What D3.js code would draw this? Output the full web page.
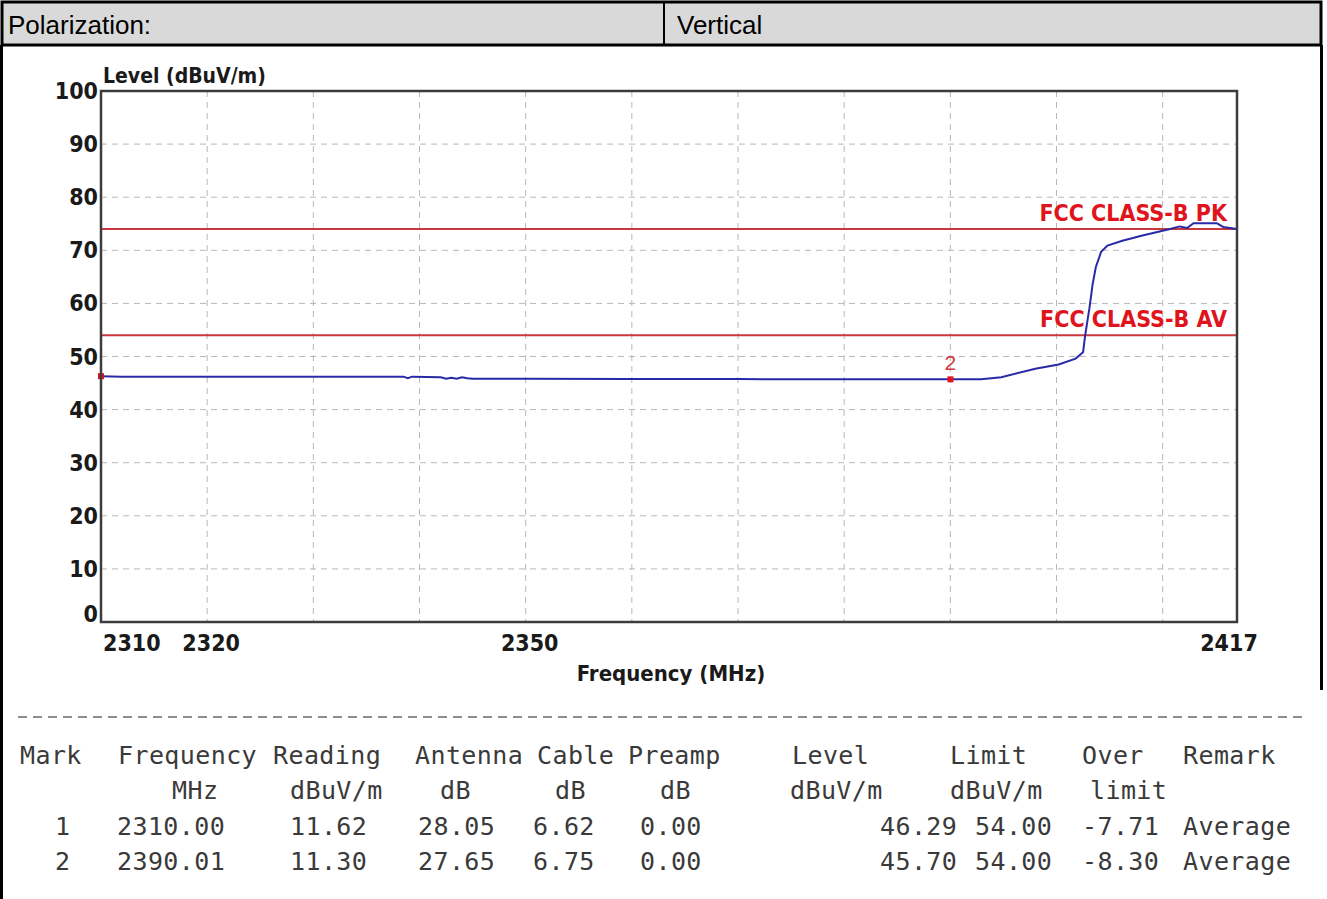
<!DOCTYPE html>
<html>
<head>
<meta charset="utf-8">
<script src="https://cdn.jsdelivr.net/npm/d3@7"></script>
<style>
  html, body { margin: 0; padding: 0; background: #fff; }
  svg { display: block; }
  .cond { font-family: "Liberation Sans Narrow", "DejaVu Sans Condensed", "Arial Narrow", sans-serif; font-stretch: condensed; font-weight: bold; }
  .mono { font-family: "DejaVu Sans Mono", "Liberation Mono", monospace; fill: #3a3a3a; }
</style>
</head>
<body>
<div id="chart"></div>
<script>
// header cells
var headLabel = "Polarization:";
var headValue = "Vertical";

// trace (MHz, dBuV/m)
var traceFreq = [2310.0, 2312, 2320, 2330, 2338.5, 2338.9, 2339.3, 2342.0, 2342.5, 2343.0, 2343.5, 2344.0, 2344.5, 2345,
                 2350, 2360, 2370, 2380, 2390.01, 2392.9, 2394.8, 2398, 2400.2, 2401.8, 2402.5, 2402.7, 2403.1,
                 2403.4, 2403.7, 2404.2, 2404.8, 2406.2, 2408.1, 2410.7, 2411.6, 2412.3, 2412.9, 2415.1, 2415.7, 2417];
var traceLevel = [46.29, 46.2, 46.2, 46.2, 46.2, 45.9, 46.2, 46.1, 45.8, 46.0, 45.8, 46.1, 45.9, 45.8,
                  45.8, 45.75, 45.75, 45.7, 45.7, 45.7, 46.1, 47.7, 48.5, 49.6, 50.8, 54, 59.1,
                  63.6, 66.8, 69.7, 70.9, 71.8, 72.8, 74.0, 74.5, 74.2, 75.1, 75.1, 74.4, 74.0];

// limit lines
var limitNames = ["FCC CLASS-B PK", "FCC CLASS-B AV"];
var limitValues = [74, 54];

// axes
var yTicks = [0, 10, 20, 30, 40, 50, 60, 70, 80, 90, 100];
var xTickLabels = [2310, 2320, 2350, 2417];
var xGrid = [2320, 2330, 2340, 2350, 2360, 2370, 2380, 2390, 2400, 2410];
var xTitle = "Frequency (MHz)";
var yTitle = "Level (dBuV/m)";

// marker table
var colHead1 = ["Mark", "Frequency", "Reading", "Antenna", "Cable", "Preamp", "Level", "Limit", "Over", "Remark"];
var colHead2 = ["", "MHz", "dBuV/m", "dB", "dB", "dB", "dBuV/m", "dBuV/m", "limit", ""];
var markNo = ["1", "2"];
var markFreq = ["2310.00", "2390.01"];
var reading = ["11.62", "11.30"];
var antenna = ["28.05", "27.65"];
var cable = ["6.62", "6.75"];
var preamp = ["0.00", "0.00"];
var level = ["46.29", "45.70"];
var limit = ["54.00", "54.00"];
var overLimit = ["-7.71", "-8.30"];
var remark = ["Average", "Average"];

var W = 1327, H = 899;
var plot = { left: 101, right: 1237, top: 91, bottom: 622 };

var svg = d3.select("#chart").append("svg")
    .attr("width", W)
    .attr("height", H);

// ---- header row ----
svg.append("rect")
    .attr("x", 2).attr("y", 2).attr("width", 1319).attr("height", 43)
    .attr("fill", "#d9d9d9").attr("stroke", "#000").attr("stroke-width", 3);
svg.append("line")
    .attr("x1", 664).attr("x2", 664).attr("y1", 2).attr("y2", 45)
    .attr("stroke", "#000").attr("stroke-width", 2);
svg.append("text").attr("x", 8).attr("y", 34)
    .attr("font-family", "Liberation Sans, Arial, sans-serif").attr("font-size", 26)
    .text(headLabel);
svg.append("text").attr("x", 677).attr("y", 34)
    .attr("font-family", "Liberation Sans, Arial, sans-serif").attr("font-size", 26)
    .text(headValue);

// outer borders below the header
svg.append("line").attr("x1", 1.5).attr("x2", 1.5).attr("y1", 45).attr("y2", H)
    .attr("stroke", "#000").attr("stroke-width", 3);
svg.append("line").attr("x1", 1321.5).attr("x2", 1321.5).attr("y1", 45).attr("y2", 690)
    .attr("stroke", "#000").attr("stroke-width", 3);

// ---- scales ----
var x = d3.scaleLinear().domain([2310, 2417]).range([plot.left, plot.right]);
var y = d3.scaleLinear().domain([0, 100]).range([plot.bottom, plot.top]);

// grid
var grid = svg.append("g").attr("class", "grid");
grid.selectAll("line.h")
    .data(yTicks.filter(function(d) { return d > 0 && d < 100; }))
    .enter().append("line")
    .attr("x1", plot.left).attr("x2", plot.right)
    .attr("y1", function(d) { return y(d); }).attr("y2", function(d) { return y(d); })
    .attr("stroke", "#b8b8b8").attr("stroke-width", 1).attr("stroke-dasharray", "6,5");
grid.selectAll("line.v")
    .data(xGrid)
    .enter().append("line")
    .attr("y1", plot.top).attr("y2", plot.bottom)
    .attr("x1", function(d) { return x(d); }).attr("x2", function(d) { return x(d); })
    .attr("stroke", "#b8b8b8").attr("stroke-width", 1).attr("stroke-dasharray", "6,5");

// limit lines
var lim = svg.append("g");
lim.selectAll("line")
    .data(limitValues)
    .enter().append("line")
    .attr("x1", plot.left).attr("x2", plot.right)
    .attr("y1", function(d) { return y(d); }).attr("y2", function(d) { return y(d); })
    .attr("stroke", "#c8383c").attr("stroke-width", 2);
lim.selectAll("text")
    .data(limitValues)
    .enter().append("text")
    .attr("class", "cond")
    .attr("x", plot.right - 10)
    .attr("y", function(d) { return y(d) - 8; })
    .attr("text-anchor", "end")
    .attr("font-size", 23)
    .attr("fill", "#e0141c")
    .text(function(d, i) { return limitNames[i]; });

// trace
var pts = traceFreq.map(function(f, i) { return [f, traceLevel[i]]; });
var line = d3.line()
    .x(function(d) { return x(d[0]); })
    .y(function(d) { return y(d[1]); });
svg.append("path")
    .datum(pts)
    .attr("d", line)
    .attr("fill", "none")
    .attr("stroke", "#2a2aa6")
    .attr("stroke-width", 2);

// markers
var marks = svg.append("g");
marks.selectAll("rect")
    .data(markNo)
    .enter().append("rect")
    .attr("x", function(d, i) { return x(+markFreq[i]) - 3; })
    .attr("y", function(d, i) { return y(+level[i]) - 3; })
    .attr("width", 6).attr("height", 6)
    .attr("fill", "#e0141c");
marks.selectAll("text")
    .data(markNo.slice(1))
    .enter().append("text")
    .attr("x", function(d) { return x(+markFreq[markNo.indexOf(d)]); })
    .attr("y", function(d) { return y(+level[markNo.indexOf(d)]) - 9; })
    .attr("text-anchor", "middle")
    .attr("font-family", "Liberation Sans, Arial, sans-serif")
    .attr("font-size", 21)
    .attr("fill", "#d03a3a")
    .text(function(d) { return d; });

// frame
svg.append("rect")
    .attr("x", plot.left).attr("y", plot.top)
    .attr("width", plot.right - plot.left).attr("height", plot.bottom - plot.top)
    .attr("fill", "none").attr("stroke", "#3c3c3c").attr("stroke-width", 2.5);

// y tick labels
svg.append("g").selectAll("text")
    .data(yTicks)
    .enter().append("text")
    .attr("class", "cond")
    .attr("x", plot.left - 3)
    .attr("y", function(d) { return y(d) + (d === 0 ? 0 : 8); })
    .attr("text-anchor", "end")
    .attr("font-size", 23)
    .attr("fill", "#1a1a1a")
    .text(function(d) { return d; });

// x tick labels
svg.append("g").selectAll("text")
    .data(xTickLabels)
    .enter().append("text")
    .attr("class", "cond")
    .attr("x", function(d, i) { return x(d); })
    .attr("dx", function(d, i) { return i === 0 ? 2 : (i === xTickLabels.length - 1 ? -8 : 4); })
    .attr("y", plot.bottom + 29)
    .attr("text-anchor", function(d, i) { return i === 0 ? "start" : "middle"; })
    .attr("font-size", 23)
    .attr("fill", "#1a1a1a")
    .text(function(d) { return d; });

// axis titles
svg.append("text").attr("class", "cond")
    .attr("x", plot.left + 2).attr("y", plot.top - 8)
    .attr("font-size", 21).attr("fill", "#1a1a1a")
    .text(yTitle);
svg.append("text").attr("class", "cond")
    .attr("x", (plot.left + plot.right) / 2 + 2).attr("y", plot.bottom + 59)
    .attr("text-anchor", "middle")
    .attr("font-size", 22).attr("fill", "#1a1a1a")
    .text(xTitle);

// ---- marker table ----
svg.append("line")
    .attr("x1", 18).attr("x2", 1306).attr("y1", 717).attr("y2", 717)
    .attr("stroke", "#6a6a6a").attr("stroke-width", 1.5).attr("stroke-dasharray", "9,6");

var colX = [20, 118, 273, 415, 537, 628, 792, 950, 1082, 1183];
var head2X = [0, 172, 290, 440, 555, 660, 790, 950, 1090, 0];
var rowX = [55, 117, 290, 418, 533, 640, 880, 975, 1082, 1183];
var cols = [markNo, markFreq, reading, antenna, cable, preamp, level, limit, overLimit, remark];

var table = svg.append("g").attr("class", "mono")
    .attr("font-size", 25).attr("letter-spacing", 0.4);

table.selectAll("text.h1")
    .data(colHead1)
    .enter().append("text")
    .attr("x", function(d, i) { return colX[i]; })
    .attr("y", 764)
    .text(function(d) { return d; });

// second header line: only the columns that carry a unit
var unitCols = d3.range(colHead2.length).filter(function(i) { return colHead2[i] !== ""; });
table.selectAll("text.h2")
    .data(unitCols)
    .enter().append("text")
    .attr("x", function(i) { return head2X[i]; })
    .attr("y", 799)
    .text(function(i) { return colHead2[i]; });

markNo.forEach(function(m, r) {
    table.selectAll(null)
        .data(cols)
        .enter().append("text")
        .attr("x", function(c, i) { return rowX[i]; })
        .attr("y", 835 + r * 35)
        .text(function(c) { return c[r]; });
});
</script>
</body>
</html>
